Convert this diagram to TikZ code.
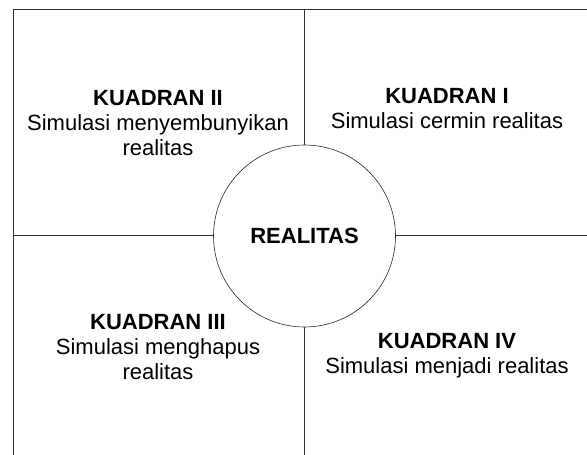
\documentclass[tikz,border=0pt]{standalone}
\usepackage{fontspec}
\setmainfont{Liberation Sans}
\begin{document}
\begin{tikzpicture}[x=1bp,y=-1bp,
  frame/.style={draw=black!80, line width=1bp},
  ring/.style={circle, draw=black!85, line width=0.6bp, minimum size=182bp, inner sep=0pt,
    font=\fontsize{22bp}{25bp}\selectfont\bfseries},
  lbl/.style={align=center, inner sep=0pt, font=\fontsize{22bp}{25bp}\selectfont}]
\useasboundingbox (0,0) rectangle (587,455);
\coordinate (tl) at (13,10);
\coordinate (tr) at (587,10);
\coordinate (bl) at (13,455);
\coordinate (tm) at (304.5,10);
\coordinate (bm) at (304.5,455);
\coordinate (lm) at (13,236);
\coordinate (rm) at (587,236);
\node[ring] (real) at (304.5,236) {REALITAS};
\draw[frame] (bl) -- (tl) -- (tr);
\draw[frame] (tm) -- (real.north);
\draw[frame] (real.south) -- (bm);
\draw[frame] (lm) -- (real.west);
\draw[frame] (real.east) -- (rm);
\node[lbl] (q2) at (158,123) {\textbf{KUADRAN II}\\Simulasi menyembunyikan\\realitas};
\node[lbl] (q1) at (447,109) {\textbf{KUADRAN I}\\Simulasi cermin realitas};
\node[lbl] (q3) at (158,347) {\textbf{KUADRAN III}\\Simulasi menghapus\\realitas};
\node[lbl] (q4) at (447,355.5) {\textbf{KUADRAN IV}\\Simulasi menjadi realitas};
\end{tikzpicture}
\end{document}
